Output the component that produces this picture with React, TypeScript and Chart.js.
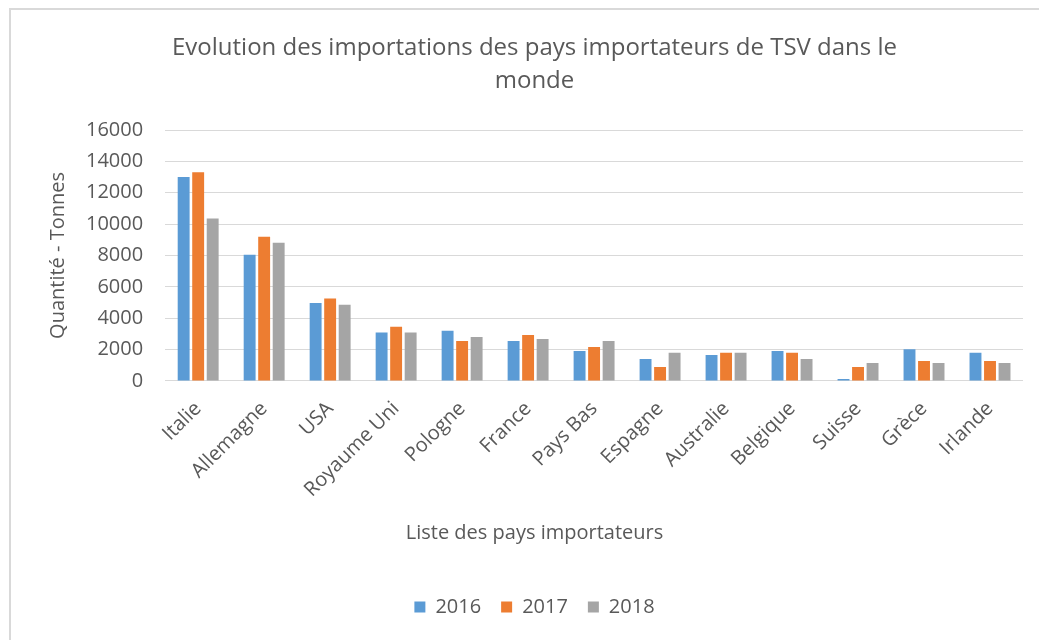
import React, { useEffect, useRef } from "react";
import { Chart, registerables } from "chart.js";

Chart.register(...registerables);

const FONT = "'Open Sans', 'Noto Sans', sans-serif";
const TEXT = "#595959";
const GRID = "#d9d9d9";

const countries = [
  "Italie",
  "Allemagne",
  "USA",
  "Royaume Uni",
  "Pologne",
  "France",
  "Pays Bas",
  "Espagne",
  "Australie",
  "Belgique",
  "Suisse",
  "Grèce",
  "Irlande",
];
const years = ["2016", "2017", "2018"];
const v2016 = [13000, 8050, 4970, 3080, 3200, 2550, 1910, 1400, 1660, 1910, 130, 2020, 1790];
const v2017 = [13300, 9190, 5250, 3460, 2550, 2930, 2170, 890, 1790, 1790, 890, 1270, 1270];
const v2018 = [10350, 8810, 4860, 3080, 2800, 2680, 2550, 1790, 1790, 1400, 1150, 1150, 1150];
const seriesColors = ["#5B9BD5", "#ED7D31", "#A5A5A5"];
const yMin = 0;
const yMax = 16000;
const yStep = 2000;
const titleLines = ["Evolution des importations des pays importateurs de TSV dans le", "monde"];
const yTitle = "Quantité - Tonnes";
const xTitle = "Liste des pays importateurs";

export default function App() {
  const ref = useRef<HTMLCanvasElement | null>(null);

  useEffect(() => {
    if (!ref.current) return;
    Chart.defaults.font.family = FONT;
    const series = [v2016, v2017, v2018];
    const chart = new Chart(ref.current, {
      type: "bar",
      data: {
        labels: countries,
        datasets: years.map((y, i) => ({
          label: y,
          data: series[i],
          backgroundColor: seriesColors[i],
          borderWidth: 0,
          categoryPercentage: 0.66,
          barPercentage: 0.82,
        })),
      },
      options: {
        responsive: false,
        animation: false,
        layout: { padding: { top: 10, left: 46, right: 16, bottom: 13 } },
        plugins: {
          title: {
            display: true,
            text: titleLines,
            color: TEXT,
            font: { family: FONT, size: 24, weight: "normal", lineHeight: 1.375 },
            padding: { top: 22, bottom: 32 },
          },
          subtitle: {
            display: true,
            position: "bottom",
            text: xTitle,
            weight: 500,
            color: TEXT,
            font: { family: FONT, size: 20, weight: "normal", lineHeight: 1.2 },
            padding: { top: 11, bottom: 32 },
          } as any,
          legend: {
            position: "bottom",
            labels: {
              boxWidth: 11,
              boxHeight: 11,
              color: TEXT,
              font: { family: FONT, size: 20 },
              padding: 20,
            },
          },
          tooltip: { enabled: false },
        },
        scales: {
          x: {
            grid: { display: false },
            border: { display: false },
            ticks: {
              color: TEXT,
              font: { family: FONT, size: 20 },
              minRotation: 45,
              maxRotation: 45,
              padding: 8,
            },
          },
          y: {
            min: yMin,
            max: yMax,
            ticks: {
              stepSize: yStep,
              color: TEXT,
              font: { family: FONT, size: 20 },
              padding: 22,
              callback: (v: any) => String(v),
            },
            grid: { color: GRID, lineWidth: 1, drawTicks: false },
            border: { display: false },
            title: {
              display: true,
              text: yTitle,
              color: TEXT,
              font: { family: FONT, size: 20, lineHeight: 1.2 },
              padding: { top: 0, bottom: -6 },
            },
          },
        },
      },
    });
    return () => chart.destroy();
  }, []);

  return (
    <div style={{ position: "absolute", left: 0, top: 0, width: 1039, height: 640, background: "#fff" }}>
      <div
        style={{
          position: "absolute",
          left: 9,
          top: 8,
          right: 0,
          bottom: 0,
          borderTop: `2px solid ${GRID}`,
          borderLeft: `2px solid ${GRID}`,
        }}
      />
      <canvas
        ref={ref}
        width={1039}
        height={640}
        style={{ position: "absolute", left: 0, top: 0, width: 1039, height: 640 }}
      />
    </div>
  );
}
